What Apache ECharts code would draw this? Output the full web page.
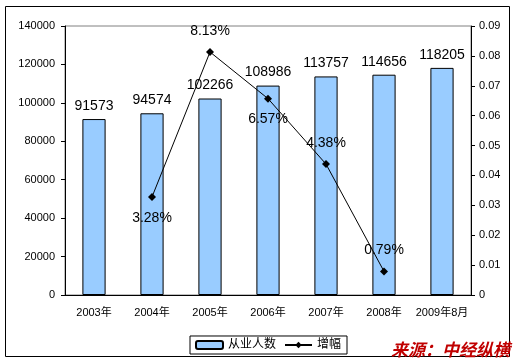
<!DOCTYPE html>
<html><head><meta charset="utf-8">
<script src="https://cdn.jsdelivr.net/npm/echarts@6/dist/echarts.min.js"></script>
<style>html,body{margin:0;padding:0;background:#fff}#c{width:518px;height:363px}</style>
</head><body><div id="c"></div>
<script>
const categories = ['2003年','2004年','2005年','2006年','2007年','2008年','2009年8月'];
const employees = [91573, 94574, 102266, 108986, 113757, 114656, 118205];
const growth = [null, 0.0328, 0.0813, 0.0657, 0.0438, 0.0079, null];
const growthLabels = [null, '3.28%', '8.13%', '6.57%', '4.38%', '0.79%', null];
const growthLabelPos = [null, 'bottom', 'top', 'bottom', 'top', 'top', null];
const leftTicks = {min: 0, max: 140000, interval: 20000};
const rightTicks = {min: 0, max: 0.09, interval: 0.01};

const chart = echarts.init(document.getElementById('c'));
const font = 'Arial, "Liberation Sans", "Noto Sans CJK SC", sans-serif';
chart.setOption({
  animation: false,
  textStyle: {fontFamily: font},
  grid: {left: 65, right: 47, top: 26, bottom: 68, show: true, borderColor: '#808080', borderWidth: 1},
  graphic: [
    {type: 'rect', shape: {x: 5.5, y: 6.5, width: 504, height: 350}, style: {fill: null, stroke: '#000', lineWidth: 1}, z: -1},
    {type: 'text', right: 8, bottom: 5, style: {text: '来源：中经纵横', fill: '#c00000', font: 'italic bold 17px "Noto Sans CJK SC", sans-serif'}, z: 10}
  ],
  legend: {
    bottom: 9, left: 190,
    data: ['从业人数', '增幅'],
    borderColor: '#000', borderWidth: 1, borderRadius: 0,
    padding: [3, 6, 3, 5], itemGap: 8,
    itemWidth: 27, itemHeight: 8,
    textStyle: {fontSize: 12, color: '#000', fontFamily: font}
  },
  xAxis: {
    type: 'category', data: categories,
    axisLine: {lineStyle: {color: '#000'}},
    axisTick: {inside: true, length: 4, lineStyle: {color: '#000'}},
    axisLabel: {color: '#000', fontSize: 11, margin: 12, interval: 0}
  },
  yAxis: [
    {type: 'value', min: leftTicks.min, max: leftTicks.max, interval: leftTicks.interval,
     splitLine: {show: false},
     axisLine: {show: true, lineStyle: {color: '#000'}},
     axisTick: {show: true, length: 4, lineStyle: {color: '#000'}},
     axisLabel: {color: '#000', fontSize: 11, margin: 10, formatter: v => String(v)}},
    {type: 'value', min: rightTicks.min, max: rightTicks.max, interval: rightTicks.interval,
     splitLine: {show: false},
     axisLine: {show: true, lineStyle: {color: '#000'}},
     axisTick: {show: true, length: 4, lineStyle: {color: '#000'}},
     axisLabel: {color: '#000', fontSize: 11, margin: 8,
       formatter: v => v === 0 ? '0' : v.toFixed(2)}}
  ],
  series: [
    {name: '从业人数', type: 'bar', yAxisIndex: 0, data: employees, barWidth: '40%',
     itemStyle: {color: '#99ccff', borderColor: '#000', borderWidth: 1},
     label: {show: true, position: 'top', distance: 6, color: '#000', fontSize: 14, fontFamily: font}},
    {name: '增幅', type: 'line', yAxisIndex: 1,
     data: growth.map((v, i) => v === null ? null : {value: v, label: {position: growthLabelPos[i]}}),
     connectNulls: false,
     symbol: 'diamond', symbolSize: 8,
     lineStyle: {color: '#000', width: 1},
     itemStyle: {color: '#000'},
     label: {show: true, color: '#000', fontSize: 14, distance: 10, fontFamily: font,
       formatter: p => growthLabels[p.dataIndex] || ''}}
  ]
});
</script></body></html>
